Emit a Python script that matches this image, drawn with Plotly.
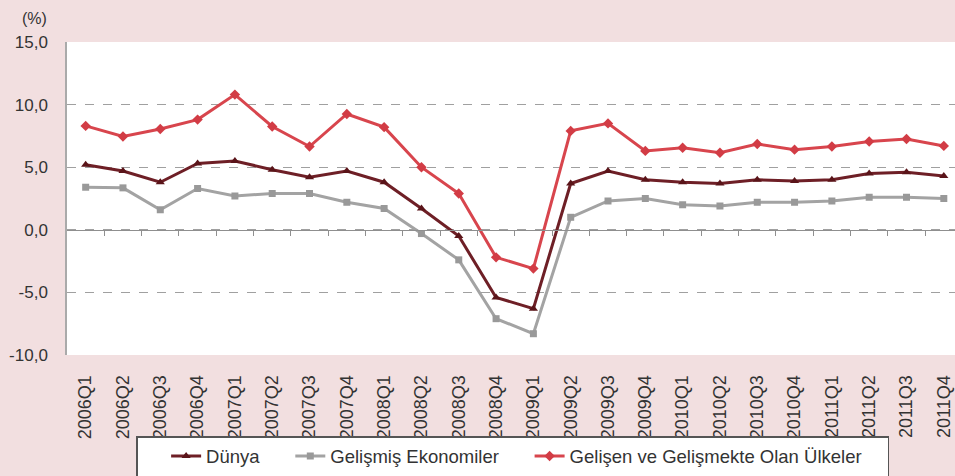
import plotly.graph_objects as go

quarters = [
    "2006Q1", "2006Q2", "2006Q3", "2006Q4",
    "2007Q1", "2007Q2", "2007Q3", "2007Q4",
    "2008Q1", "2008Q2", "2008Q3", "2008Q4",
    "2009Q1", "2009Q2", "2009Q3", "2009Q4",
    "2010Q1", "2010Q2", "2010Q3", "2010Q4",
    "2011Q1", "2011Q2", "2011Q3", "2011Q4",
]

dunya = [5.2, 4.7, 3.8, 5.3, 5.5, 4.8, 4.2, 4.7, 3.8, 1.7, -0.5, -5.4,
         -6.3, 3.7, 4.7, 4.0, 3.8, 3.7, 4.0, 3.9, 4.0, 4.5, 4.6, 4.3]
gelismis = [3.4, 3.35, 1.6, 3.3, 2.7, 2.9, 2.9, 2.2, 1.7, -0.3, -2.4, -7.1,
            -8.3, 1.0, 2.3, 2.5, 2.0, 1.9, 2.2, 2.2, 2.3, 2.6, 2.6, 2.5]
gelisen = [8.3, 7.45, 8.05, 8.8, 10.8, 8.25, 6.65, 9.25, 8.2, 5.0, 2.9, -2.2,
           -3.1, 7.9, 8.5, 6.3, 6.55, 6.15, 6.85, 6.4, 6.65, 7.05, 7.25, 6.7]

y_ticks = [-10, -5, 0, 5, 10, 15]
y_labels = ["-10,0", "-5,0", "0,0", "5,0", "10,0", "15,0"]

FONT = "Liberation Sans, Arial, sans-serif"
PINK = "#f2dfe0"
TXT = "#333333"
NB = "\u00a0"

fig = go.Figure()
fig.add_trace(go.Scatter(
    x=quarters, y=dunya, name="Dünya" + NB * 5, mode="lines+markers",
    line=dict(color="#6e1f26", width=3),
    marker=dict(symbol="triangle-up", size=8, color="#5a1419"),
))
fig.add_trace(go.Scatter(
    x=quarters, y=gelismis, name="Gelişmiş Ekonomiler" + NB * 5, mode="lines+markers",
    line=dict(color="#a3a3a3", width=3),
    marker=dict(symbol="square", size=7, color="#999999"),
))
fig.add_trace(go.Scatter(
    x=quarters, y=gelisen, name="Gelişen ve Gelişmekte Olan Ülkeler" + NB * 4,
    mode="lines+markers",
    line=dict(color="#d8454d", width=3),
    marker=dict(symbol="diamond", size=8, color="#d23c45"),
))
# empty helper trace so the zero-line tick axis gets drawn
fig.add_trace(go.Scatter(
    x=quarters, y=[None] * len(quarters), xaxis="x2", showlegend=False,
    hoverinfo="skip", mode="lines",
))

fig.update_layout(
    width=955, height=476,
    margin=dict(l=67, r=0, t=42, b=121, autoexpand=False),
    paper_bgcolor=PINK,
    plot_bgcolor="white",
    font=dict(family=FONT, size=17, color=TXT),
    xaxis=dict(
        type="category", range=[-0.5, 23.3], tickangle=-90, automargin=False,
        showgrid=False, zeroline=False, showline=False,
        ticks="outside", ticklen=12, tickcolor="rgba(0,0,0,0)",
        tickfont=dict(size=18, color=TXT),
    ),
    # zero line with small tick marks between the quarters
    xaxis2=dict(
        type="category", overlaying="x", anchor="free", position=0.4, side="bottom",
        range=[-0.5, 23.3], tickvals=[i + 0.5 for i in range(23)], automargin=False,
        showticklabels=False, ticks="outside", ticklen=5,
        tickcolor="#8f8f8f", showline=True, linecolor="#8f8f8f", linewidth=1,
        showgrid=False, zeroline=False,
    ),
    yaxis=dict(
        range=[-10, 15], tickvals=y_ticks, ticktext=y_labels, automargin=False,
        showgrid=True, gridcolor="#a0a0a0", griddash="dash", gridwidth=1,
        zeroline=False, showline=True, linecolor="#aaaaaa", linewidth=1.5,
        ticklabelstandoff=14, tickfont=dict(size=17, color=TXT),
    ),
    legend=dict(
        orientation="h", x=0.502, xanchor="center", y=-0.326, yanchor="middle",
        bgcolor="white", bordercolor="#555555", borderwidth=1.5,
        font=dict(size=18.5, color=TXT),
        title=dict(text=NB * 3, side="left"),
    ),
    showlegend=True,
    annotations=[dict(
        text="(%)", xref="paper", yref="paper", x=-0.037, y=1.075,
        xanchor="center", yanchor="middle", showarrow=False,
        font=dict(size=16, color=TXT),
    )],
)

# drop the page's default 8px body margin so the figure sits at the corner
fig.write_html(
    "out.html",
    config={"displayModeBar": False},
    post_script="document.body.style.margin='0';document.body.style.overflow='hidden';",
)
